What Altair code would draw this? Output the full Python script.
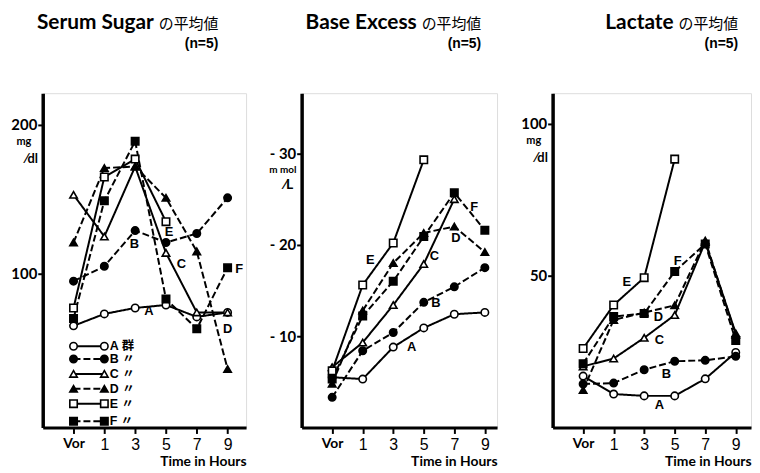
import altair as alt
import pandas as pd

# ---------------- data ----------------
hours = [-1, 1, 3, 5, 7, 9]          # -1 stands for "Vor"
series = ["A", "B", "C", "D", "E", "F"]

sugar_A = [65, 73, 77, 79, 71, 74]
sugar_B = [95, 105, 129, 121, 127, 151]
sugar_C = [153, 125, 172, 114, 74, 74]
sugar_D = [121, 171, 172, 151, 115, 36]
sugar_E = [77, 165, 177, 135]
sugar_F = [70, 149, 189, 83, 63, 104]

be_A = [5.5, 5.3, 8.8, 10.9, 12.4, 12.6]
be_B = [3.3, 8.4, 10.4, 13.7, 15.4, 17.5]
be_C = [6.6, 9.3, 13.4, 17.9, 25.0]
be_D = [4.8, 12.8, 18.0, 21.3, 22.0, 19.2]
be_E = [6.2, 15.6, 20.2, 29.3]
be_F = [5.3, 12.2, 16.0, 20.9, 25.7, 21.6]

lac_A = [16.9, 11.0, 10.4, 10.4, 16.0, 24.7]
lac_B = [14.3, 14.6, 19.0, 21.8, 22.1, 23.4]
lac_C = [20.1, 22.7, 29.5, 37.0, 61.0, 31.0]
lac_D = [12.3, 35.4, 37.8, 40.2, 61.5, 30.5]
lac_E = [26.0, 40.3, 49.3, 88.3]
lac_F = [21.0, 36.5, 37.5, 51.3, 60.4, 28.6]

# series labels inside the plots (letter, hour, value)
sugar_lab_t = ["A", "B", "C", "D", "E", "F"]
sugar_lab_x = [3.9, 2.95, 6.0, 9.0, 5.2, 9.75]
sugar_lab_y = [74.7, 120, 106.7, 62.7, 128, 103.3]

be_lab_t = ["A", "B", "C", "D", "E", "F"]
be_lab_x = [4.2, 5.8, 5.7, 7.1, 1.5, 8.3]
be_lab_y = [8.8, 13.6, 18.8, 20.7, 18.3, 24.1]

lac_lab_t = ["A", "B", "C", "D", "E", "F"]
lac_lab_x = [4.0, 4.45, 4.0, 3.94, 1.86, 5.2]
lac_lab_y = [7.5, 17.5, 28.9, 36.4, 48.0, 54.9]

# legend (sugar panel)
legend_text = ["A 群", "B 〃", "C 〃", "D 〃", "E 〃", "F 〃"]
legend_y = [51.3, 42.7, 32.7, 22.7, 12.7, 0.9]
legend_x = [-1, 1]

NARROW = "Lato, Roboto, Liberation Sans, sans-serif"
SANS = "Liberation Sans, Noto Sans CJK JP, sans-serif"
JP = "Noto Sans CJK JP, sans-serif"


def long_df(vals):
    rows = []
    for s, v in zip(series, vals):
        for h, y in zip(hours, v):
            rows.append({"s": s, "x": h, "y": y})
    return pd.DataFrame(rows)


dash_scale = alt.Scale(domain=series, range=[[1, 0], [7, 3], [1, 0], [7, 3], [1, 0], [7, 3]])
shape_scale = alt.Scale(domain=series, range=["circle", "circle", "triangle-up", "triangle-up", "square", "square"])
fill_scale = alt.Scale(domain=series, range=["white", "black", "white", "black", "white", "black"])


def text_one(txt, x, y, size, font, weight="bold", align="right"):
    return alt.Chart(pd.DataFrame({"t": [txt]})).mark_text(
        font=font, fontSize=size, fontWeight=weight, align=align, baseline="alphabetic", color="black"
    ).encode(text="t:N", x=alt.value(x), y=alt.value(y))


def panel(vals, xdom, ydom, width, yticks, ylabel_expr, lab, title, unit_texts, legend=False):
    df = long_df(vals)
    xenc = alt.X(
        "x:Q",
        scale=alt.Scale(domain=xdom, nice=False, zero=False),
        axis=alt.Axis(
            values=hours,
            tickCount=len(hours) + 4,
            labelExpr="datum.value == -1 ? 'Vor' : datum.value",
            labelFont={"condition": {"test": "datum.value == -1", "value": NARROW}, "value": "Liberation Sans"},
            labelFontWeight={"condition": {"test": "datum.value == -1", "value": "bold"}, "value": "normal"},
            labelFontSize={"condition": {"test": "datum.value == -1", "value": 14}, "value": 16},
            labelColor="black",
            labelPadding=3,
            labelOverlap=False,
            labelFlush=False,
            labelBound=False,
            domainWidth=3,
            domainColor="black",
            tickColor="black",
            tickWidth=2,
            tickSize=6,
            grid=False,
            title="Time in Hours",
            titleFont=NARROW,
            titleFontSize=14,
            titleFontWeight="bold",
            titleAnchor="end",
            titleColor="black",
            titlePadding=2,
        ),
    )
    yenc = alt.Y(
        "y:Q",
        scale=alt.Scale(domain=ydom, nice=False, zero=False),
        axis=alt.Axis(
            values=yticks,
            tickCount=12,
            labelExpr=ylabel_expr,
            labelFont=NARROW,
            labelFontSize=15,
            labelFontWeight="bold",
            labelColor="black",
            labelPadding=1,
            labelOverlap=False,
            labelFlush=False,
            domainWidth=3.5,
            domainColor="black",
            tickColor="black",
            tickWidth=2,
            tickSize=5,
            grid=False,
            title=None,
        ),
    )
    lines = alt.Chart(df).mark_line(color="black", strokeWidth=2).encode(
        x=xenc, y=yenc,
        strokeDash=alt.StrokeDash("s:N", scale=dash_scale, legend=None),
        detail="s:N", order="x:Q",
    )
    pts = alt.Chart(df).mark_point(size=56, stroke="black", strokeWidth=1.6, opacity=1, fillOpacity=1).encode(
        x="x:Q", y="y:Q",
        shape=alt.Shape("s:N", scale=shape_scale, legend=None),
        fill=alt.Fill("s:N", scale=fill_scale, legend=None),
    )
    ldf = pd.DataFrame({"t": lab[0], "x": lab[1], "y": lab[2]})
    labs = alt.Chart(ldf).mark_text(font="Liberation Sans", fontSize=13, fontWeight="bold", color="black").encode(
        x="x:Q", y="y:Q", text="t:N"
    )
    layers = [lines, pts, labs]
    if legend:
        rows = []
        for s, yv in zip(series, legend_y):
            for xv in legend_x:
                rows.append({"s": s, "x": xv, "y": yv})
        gdf = pd.DataFrame(rows)
        glines = alt.Chart(gdf).mark_line(color="black", strokeWidth=2).encode(
            x="x:Q", y="y:Q",
            strokeDash=alt.StrokeDash("s:N", scale=dash_scale, legend=None),
            detail="s:N",
        )
        gpts = alt.Chart(gdf).mark_point(size=56, stroke="black", strokeWidth=1.6, opacity=1, fillOpacity=1).encode(
            x="x:Q", y="y:Q",
            shape=alt.Shape("s:N", scale=shape_scale, legend=None),
            fill=alt.Fill("s:N", scale=fill_scale, legend=None),
        )
        tdf = pd.DataFrame({"t": legend_text, "x": [1.35] * 6, "y": legend_y})
        gtxt = alt.Chart(tdf).mark_text(font=SANS, fontSize=12.5, fontWeight="bold", align="left", color="black").encode(
            x="x:Q", y="y:Q", text="t:N"
        )
        layers += [glines, gpts, gtxt]
    # titles
    main, right = title
    layers.append(text_one(main, right - 65, -65, 21, NARROW))
    layers.append(text_one("の平均値", right, -65, 15, JP, weight="normal"))
    layers.append(text_one("(n=5)", right, -46, 14, "Liberation Sans"))
    for (t, ux, uy, us) in unit_texts:
        layers.append(text_one(t, ux, uy, us, NARROW, align="center"))
    return alt.layer(*layers).properties(width=width, height=337)


p1 = panel(
    [sugar_A, sugar_B, sugar_C, sugar_D, sugar_E, sugar_F],
    [-3, 10.2], [-3.3, 221.3], 205, [100, 200], "datum.value",
    (sugar_lab_t, sugar_lab_x, sugar_lab_y), ("Serum Sugar", 177),
    [("mg", -19, 52, 11), ("⁄dl", -11, 70, 13)],
    legend=True,
)
p2 = panel(
    [be_A, be_B, be_C, be_D, be_E, be_F],
    [-3, 9.8], [0, 36.6], 197, [10, 20, 30], "'- ' + datum.value",
    (be_lab_t, be_lab_x, be_lab_y), ("Base Excess", 181),
    [("m mol", -19, 80, 10), ("⁄L", -13, 97, 14)],
)
p3 = panel(
    [lac_A, lac_B, lac_C, lac_D, lac_E, lac_F],
    [-3, 10], [0, 110], 200, [50, 100], "datum.value",
    (lac_lab_t, lac_lab_x, lac_lab_y), ("Lactate", 187),
    [("mg", -19, 51, 11), ("⁄dl", -11, 69, 13)],
)

chart = alt.hconcat(p1, p2, p3, spacing=56, bounds="flush").properties(
    padding={"left": 2, "top": 1, "right": 0, "bottom": 0}
).configure_view(stroke=None).configure(background="white")

chart.save("out.html", embed_options={"renderer": "svg", "actions": False})
